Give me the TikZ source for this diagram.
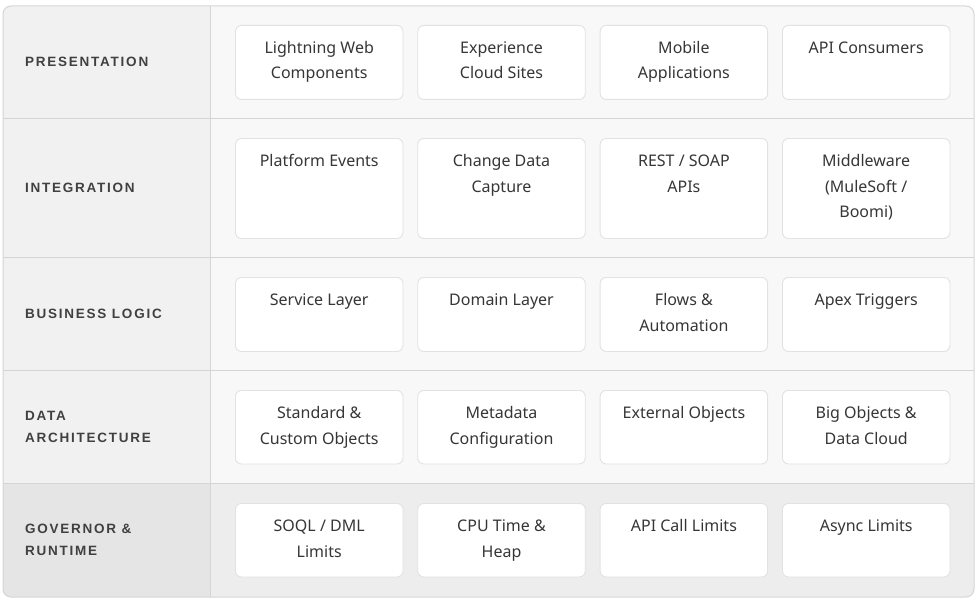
\documentclass[tikz,border=0pt]{standalone}
\usepackage{fontspec}
\setmainfont{Noto Sans}
\newfontfamily\labfont{Liberation Sans}[LetterSpace=13]
\definecolor{pagebg}{HTML}{FFFFFF}
\definecolor{labbg}{HTML}{F1F1F1}
\definecolor{rowbg}{HTML}{F8F8F8}
\definecolor{govlab}{HTML}{E5E5E5}
\definecolor{govrow}{HTML}{EDEDED}
\definecolor{rule}{HTML}{D5D5D5}
\definecolor{cellrule}{HTML}{E2E2E2}
\definecolor{celltxt}{HTML}{363636}
\definecolor{labtxt}{HTML}{404040}
\tikzset{
  cellbox/.style={draw=cellrule, line width=0.9pt, fill=white, rounded corners=6pt,
    minimum width=167.5pt, inner sep=0pt, anchor=north west},
  celltext/.style={font=\fontsize{16}{25.5}\selectfont, text=celltxt, align=center,
    inner sep=0pt, anchor=base},
  layertext/.style={font=\labfont\bfseries\fontsize{13.5}{22.5}\selectfont, text=labtxt,
    align=left, inner sep=0pt, anchor=base west},
}
\begin{document}
\begin{tikzpicture}[x=1pt,y=-1pt]
\useasboundingbox[fill=pagebg] (0,0) rectangle (978,602);
\begin{scope}
  \clip[rounded corners=8pt] (3,6) rectangle (974,597);
  \fill[rowbg] (3,6) rectangle (974,483);
  \fill[labbg] (3,6) rectangle (210.5,483);
  \fill[govrow] (3,483) rectangle (974,597);
  \fill[govlab] (3,483) rectangle (210.5,597);
\end{scope}
% row and column rules
\draw[rule, line width=1pt] (3,118) -- (974,118);
\draw[rule, line width=1pt] (3,257.5) -- (974,257.5);
\draw[rule, line width=1pt] (3,370) -- (974,370);
\draw[rule, line width=1pt] (3,483) -- (974,483);
\draw[rule, line width=1pt] (210.5,6) -- (210.5,597);
\draw[rule, line width=1pt, rounded corners=8pt] (3,6) rectangle (974,597);

% layer labels (base = baseline of last line)
\node[layertext] (lp) at (25,66.5) {PRESENTATION};
\node[layertext] (li) at (25,192.3) {INTEGRATION};
\node[layertext] (lb) at (25,318.3) {BUSINESS LOGIC};
\node[layertext] (ld) at (25,442.5) {DATA\\ARCHITECTURE};
\node[layertext] (lg) at (25,555.5) {GOVERNOR \&\\RUNTIME};

% Presentation
\node[cellbox, minimum height=74pt] (p1) at (235,25) {};
\node[cellbox, minimum height=74pt] (p2) at (417.3,25) {};
\node[cellbox, minimum height=74pt] (p3) at (599.7,25) {};
\node[cellbox, minimum height=74pt] (p4) at (782,25) {};
\node[celltext] (tp1) at ([yshift=-54pt]p1.north) {Lightning Web\\Components};
\node[celltext] (tp2) at ([yshift=-54pt]p2.north) {Experience\\Cloud Sites};
\node[celltext] (tp3) at ([yshift=-54pt]p3.north) {Mobile\\Applications};
\node[celltext] (tp4) at ([yshift=-28.5pt]p4.north) {API Consumers};

% Integration
\node[cellbox, minimum height=100pt] (i1) at (235,138) {};
\node[cellbox, minimum height=100pt] (i2) at (417.3,138) {};
\node[cellbox, minimum height=100pt] (i3) at (599.7,138) {};
\node[cellbox, minimum height=100pt] (i4) at (782,138) {};
\node[celltext] (ti1) at ([yshift=-28.5pt]i1.north) {Platform Events};
\node[celltext] (ti2) at ([yshift=-54pt]i2.north) {Change Data\\Capture};
\node[celltext] (ti3) at ([yshift=-54pt]i3.north) {REST / SOAP\\APIs};
\node[celltext] (ti4) at ([yshift=-79.5pt]i4.north) {Middleware\\(MuleSoft /\\Boomi)};

% Business logic
\node[cellbox, minimum height=74pt] (b1) at (235,277) {};
\node[cellbox, minimum height=74pt] (b2) at (417.3,277) {};
\node[cellbox, minimum height=74pt] (b3) at (599.7,277) {};
\node[cellbox, minimum height=74pt] (b4) at (782,277) {};
\node[celltext] (tb1) at ([yshift=-28.5pt]b1.north) {Service Layer};
\node[celltext] (tb2) at ([yshift=-28.5pt]b2.north) {Domain Layer};
\node[celltext] (tb3) at ([yshift=-54pt]b3.north) {Flows \&\\Automation};
\node[celltext] (tb4) at ([yshift=-28.5pt]b4.north) {Apex Triggers};

% Data architecture
\node[cellbox, minimum height=73.5pt] (d1) at (235,390) {};
\node[cellbox, minimum height=73.5pt] (d2) at (417.3,390) {};
\node[cellbox, minimum height=73.5pt] (d3) at (599.7,390) {};
\node[cellbox, minimum height=73.5pt] (d4) at (782,390) {};
\node[celltext] (td1) at ([yshift=-54pt]d1.north) {Standard \&\\Custom Objects};
\node[celltext] (td2) at ([yshift=-54pt]d2.north) {Metadata\\Configuration};
\node[celltext] (td3) at ([yshift=-28.5pt]d3.north) {External Objects};
\node[celltext] (td4) at ([yshift=-54pt]d4.north) {Big Objects \&\\Data Cloud};

% Governor & runtime
\node[cellbox, minimum height=73.5pt] (g1) at (235,503) {};
\node[cellbox, minimum height=73.5pt] (g2) at (417.3,503) {};
\node[cellbox, minimum height=73.5pt] (g3) at (599.7,503) {};
\node[cellbox, minimum height=73.5pt] (g4) at (782,503) {};
\node[celltext] (tg1) at ([yshift=-54pt]g1.north) {SOQL / DML\\Limits};
\node[celltext] (tg2) at ([yshift=-54pt]g2.north) {CPU Time \&\\Heap};
\node[celltext] (tg3) at ([yshift=-28.5pt]g3.north) {API Call Limits};
\node[celltext] (tg4) at ([yshift=-28.5pt]g4.north) {Async Limits};
\end{tikzpicture}
\end{document}
